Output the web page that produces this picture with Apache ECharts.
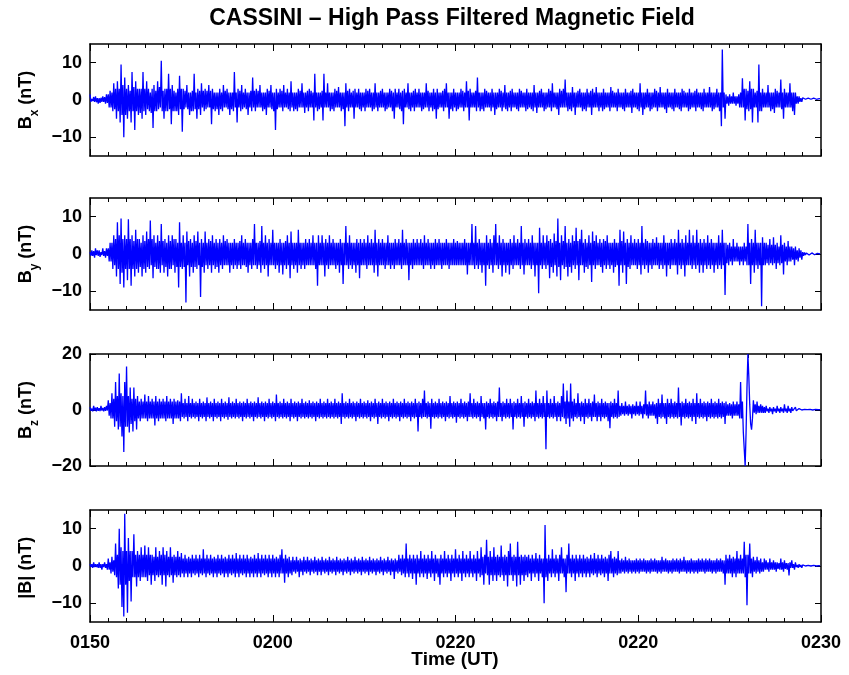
<!DOCTYPE html>
<html><head><meta charset="utf-8">
<script src="https://cdn.jsdelivr.net/npm/echarts@6/dist/echarts.min.js"></script>
<style>html,body{margin:0;padding:0;background:#fff}#c{width:849px;height:675px}</style>
</head><body><div id="c"></div>
<script>
// time axis: minutes after 01:50 UT, one sample every 0.05 min (20 per line = 1 minute)
const sampleStepMin = 0.05;
const xTickLabels = ['0150', '0200', '0220', '0220', '0230'];
const titleText = 'CASSINI \u2013 High Pass Filtered Magnetic Field';
const xAxisTitle = 'Time (UT)';

const bx = [
1.5,-0.5,0.3,-0.3,0.8,-0.5,1,-0.6,0.5,-1,0.5,-0.8,0.6,-0.5,1,-0.5,0.8,-1,1.5,-0.8,
1.5,-2,2.5,-2,2,-3,4.5,-2.5,3,-5,5,-3,3,-6,9.5,-4,4,-10,6,-4,
3,-5,4,-3,2.5,-6,7.5,-3,3.5,-8,5,-3,3,-4,3,-3.5,3,-5,7.5,-3,
3,-4,5,-2.5,3,-3,2,-3.5,3,-7.5,4,-3,2.5,-3,5,-2.5,3.5,-2,10.5,-3,
2.5,-5,3,-3,3,-3,7,-2.5,3,-6.5,4,-3,2.5,-3,2,-3,3,-4,6.5,-2.5,
3,-8.5,3,-2.5,2.5,-2,4,-2.5,2,-4,2,-3,2.5,-3,7,-2.5,2,-5,3,-2.5,
2.5,-4,4.5,-2,2.5,-3,3,-2.5,2.5,-2,4,-2,2.5,-6.5,3,-2.5,2,-3,2,-2.5,
2,-4,3,-2.5,2,-3,4,-2,2.5,-2,3,-2.5,2,-4,2,-2.5,2,-3,7.5,-2,
2,-6,3,-2,2.5,-3,4,-2.5,2,-2,3,-2.5,2,-4,2,-2,2.5,-3,6,-2,
2.5,-3,3,-2,2.5,-2,4,-2,2,-3,2,-2.5,2,-4,3,-2,2.5,-2,4,-2.5,
2,-3,2,-8,3,-2.5,2,-2,3,-2,2.5,-3,4,-2,2,-2,3,-2.5,2,-3,
5,-2,2,-3,2,-2.5,2,-3,3,-2,2.5,-2,4.5,-2,2,-3.5,2,-2,2.5,-3,
3,-2,2.5,-2,2,-5.5,7,-2,2,-3,2,-2.5,2,-2,2.5,-5.5,7,-2,2,-2,
4.5,-2,2,-3,2,-2.5,2,-3,3,-2,2.5,-2,3.5,-2,2,-3,2,-2.5,2,-7,
4.5,-2,2.5,-3,3,-2,2,-2,2.5,-5,3,-2,2,-2,3,-2.5,2,-3,2,-2,
2,-3,3,-2,2.5,-2,3,-2,2,-3,2,-2.5,4.5,-2,2,-3,2,-2,2.5,-2,
3,-2,2,-3,2,-2.5,2,-2,3,-2,2.5,-3,2,-5,3,-2,2,-2,3,-2.5,
2,-3,2.5,-6.5,3,-2,2,-2,4.5,-2.5,2,-3,2,-2,2.5,-3,3,-2,2,-2,
3,-2,2,-3,2,-2.5,2,-2,4.5,-2,2.5,-3,2,-2,2,-3,3,-2.5,2,-5,
3,-2.5,2,-2,2,-2,2.5,-3,3,-2,4.5,-2,2,-5,2,-2.5,2,-3,3,-2,
2,-3,2,-2.5,2,-2,3,-2,2.5,-3,2,-2,5,-2,2.5,-5.5,3,-2,2,-2,
2,-2,2.5,-3,6,-2,2,-3,2,-2.5,2,-3,3,-2,2.5,-2,2,-2,2,-3,
3,-2,2,-4,2,-2.5,2,-2,3,-2,2.5,-3,2,-2,4,-2.5,2,-3,2,-2,
2.5,-3,3,-2,2,-2,2,-2.5,2,-3,3,-2,2.5,-2,2,-2,2,-3,3,-2.5,
2,-2,2,-2.5,2,-3,4,-2,2,-3.5,2,-2,2.5,-2,3,-2,2,-3,2,-2.5,
2,-2,3,-2,2.5,-3,4.5,-2,2,-2,2,-2.5,2,-4,3,-2,2.5,-2,3,-2,
5.5,-2,2,-3,2,-2.5,2,-3,3.5,-2,2,-4,2,-2,2.5,-2,3,-2,2,-3,
2,-2.5,2,-3,3,-2,2,-2,2.5,-4,3,-2,2,-2,3.5,-2,2,-3,2,-2,
2,-3,3,-2.5,2,-2,2,-2,2,-3,3.5,-2,2.5,-2,2,-2,2,-3,3,-2,
2,-2,2,-2.5,2,-3,3,-2,2,-2,2,-2,2.5,-3.5,3,-2,2,-2,2,-2.5,
2,-3,4.5,-2,2,-4,2,-2.5,2,-2,3,-2,2,-3,2,-2.5,2,-2,3,-2,
2.5,-3,2,-2,3.5,-2,2,-2,2,-2.5,2,-3.5,3,-2,2,-2,2,-2.5,2,-3,
3,-2,2,-2,2,-2.5,2,-3,3,-2,2.5,-2,2,-2,2,-3,3,-2.5,2,-2,
2,-2,2.5,-3,3,-2,2,-2,2,-2.5,2,-3,3,-2,2,-2,2,-2,3.5,-2,
2,-3,2,-2.5,2,-2,3,-2,2,-3,2,-7,13.5,-2,2,-5,1.5,-1,1,-1.5,
1.5,-1,1,-1,2,-1,1,-1.5,1,-1,1.5,-2,2,-2,5.8,-2,3,-5.5,3,-2.5,
2.5,-3,5,-2.5,3,-6,3,-2,2,-2,2.5,-6,9.5,-3,2,-3,3,-2,2,-2,
2,-2,4,-2,2,-3,2,-2.5,2,-3.5,3,-2,2.5,-2,2,-2,5.5,-2.5,2,-5,
3,-2,2,-2,2,-2,4.5,-2,2,-3,2,-4,2,-1,1,-1,1,-0.5,0.5,-0.5,
0.6,0.1,0.5,0.2,0.6,0.1,0.5,0.2,0.5,0.2,0.4,0.2,0.5,0.1,0.4,0.2,0.5,0.2,0.4,0.3
];

const by = [
0.5,-0.5,1,-0.5,0.8,-1,1.5,-0.3,1,-0.5,1,-0.8,0.5,-0.3,1.5,-0.5,0.8,-1,1.5,-0.5,
1.5,-2,3,-2,3,-4,5,-3,4,-6,8.5,-4,5,-8,9.5,-5,4,-9,5,-4,
4,-7,9.3,-4,4,-8.5,5,-4,3.5,-6,6.5,-4,4,-5,4,-3.5,3,-6,5,-4,
3.5,-5,6,-3.5,4,-4,9,-3,4,-6.5,5,-3.5,3,-4,5,-4,3.5,-5,8,-3,
3.5,-5,4,-3.5,3,-6,5,-4,3.5,-4,5,-3,4,-5,4,-3.5,3,-9,8.5,-3.5,
3,-4,5,-3.5,3,-13,6,-3,3.5,-6,4,-3.5,3,-5,5,-3.5,3.5,-4,6,-3,
3,-11.5,4,-3.5,3,-5,6,-3,3,-4,4,-3,3.5,-5,5,-3,3,-4,4,-3.5,
3,-5,4,-3,3,-4,5,-3,3.5,-3,4,-3,3,-5,3,-3,3,-4,4,-3,
3,-4,3,-3,3.5,-4,5,-3,3,-3,4,-3.5,3,-5,3,-3,3,-4,4,-3,
8,-3,3,-4,3,-3,3.5,-5,7.5,-3,3,-4,5,-3,3,-6,4,-3,3,-3,
6.5,-3,3,-4,3,-3,3,-5,4,-3,3,-5.5,3,-3,3.5,-4,5,-3,3,-6.5,
6,-3,3,-4,3,-3,3,-5,6.5,-3,3,-4,3,-3,3,-4,4,-3,3,-3,
4,-3,3,-3,5,-3,3,-4,3,-8.5,5,-3,3,-3,5,-3,3,-6,4,-3,
3,-4,5,-3,3,-3,4,-3,3,-4,3,-3,3,-5,4,-3,3,-8,3,-3,
7.5,-3,3,-4,5,-3,3,-4,3,-3,3,-5,4,-3,3,-6.5,4,-3,3,-3,
4,-3,3,-4,5,-3,3,-3,4,-3,3,-5,6.5,-3,3,-6,4,-3,3,-3,
4,-3,3,-4,3,-3,5,-3,3,-4,3,-3,3,-4,4,-3,3,-3,4,-3,
3,-4,6.5,-3,3,-3,4,-3,3,-7,3,-3,3,-4,4,-3,3,-3,4,-3,
3,-3,4,-3,3,-4,5,-3,3,-3,4,-3,3,-4,3,-3,3,-4,4,-3,
3,-3,4,-3,3,-4,3,-3,3,-3,4,-3,3,-4,3,-3,3,-3,4,-3,
3,-3,3.5,-3,3,-3,3,-3,3,-3,4,-3,3,-5.5,3,-3,3,-3,8,-3,
3,-4,7.5,-3,3,-4,4,-3,3,-5,3,-3,3,-8.5,5,-3,3,-4,4,-3,
3,-5,5,-3,8,-3,3,-4,5,-3,3,-6,4,-3,3,-5,3,-3,3,-5.5,
4,-3,3,-4,5,-3,3,-3,4,-3,3,-4,7.5,-3,3,-5.5,4,-3,3,-3,
4,-3,3,-4,5,-3,3,-6,3,-3,3,-10.5,7,-3,3,-4,5,-3,3,-4,
5,-3,3.5,-6.5,4,-3.5,3,-5,5.5,-3,3.5,-6,9.5,-3.5,3,-7,5,-3,3.5,-4,
7.5,-3.5,3,-6,4,-3.5,3,-5,5,-3,3.5,-4,7,-3,3.5,-7,4,-3,6.5,-3,
3,-5,4,-3.5,3,-4,5,-3,3,-7.5,6,-3,3.5,-4,5,-3,3,-3,4,-3.5,
3,-5,4,-3,3.5,-4,5,-3,3,-4,3,-3,3,-5,4,-3.5,3,-3,3,-8.5,
6.5,-3,3.5,-5,6,-3,3,-8,4,-3.5,3,-4,5,-3,3,-3,4,-3,3,-4,
4,-3,3,-5.5,7.5,-3,3,-4,4,-3,3.5,-5,3,-3,3,-4,4,-3,3,-3,
4.5,-3,3,-4,3,-3,3,-4,5,-3,3,-6,3,-3,3,-4,4,-3,3,-3,
4,-3,3,-5.5,6.5,-3,3,-4,4,-3,3,-6,5,-3,3,-3,6.5,-3,3,-4,
5,-3,3,-4,6.5,-3,3,-5,4,-3,3,-5,4,-3,3,-4,5,-3,3,-4,
4,-3,3,-5,3,-3,3,-4,5,-3,3,-4,6.5,-3,3,-11,3,-2.5,2.5,-3,
3,-2,2,-3,4,-2,2,-2,3,-2,2,-3,2,-2,2,-3,3,-2,2,-3,
8,-3,3,-8,4,-3,3,-5,6.5,-3,3,-4,3,-3,3,-14,4.5,-3,3,-3,
3,-2.5,2.5,-3,4,-2.5,2.5,-3,4.5,-2.5,2.5,-4,3,-2.5,2,-3,5,-2.5,2.5,-5.5,
3,-2,2,-3,3.5,-2,2,-2,2,-1.5,1.5,-3,2,-1.5,1,-2,1.5,-1,1,-1.5,
0.5,-0.5,0.4,-0.3,0.3,-0.2,0.3,-0.3,0.2,-0.2,0.3,-0.2,0.2,-0.2,0.2,-0.1,0.2,-0.2,0.1,0
];

const bz = [
1,-0.3,0.5,-0.5,1.5,-0.2,0.8,-0.5,1,-0.3,0.6,-0.4,1.5,-0.2,0.7,-0.5,1,-0.3,1.5,-0.2,
3.5,-2,2.5,-3,6,-3,4,-6,10,-4,5,-7,13,-6,6,-9.5,5,-15,10,-6,
15.5,-6,5,-8,8,-5,4,-7.7,8,-4,4,-7,5,-3,3,-4,4,-3,3,-3,
5.5,-3,3,-4,5,-3,3,-3,4,-3,3,-5.5,5,-3,3,-4,4,-3,3,-3,
4,-3,3,-4,5,-3,3,-3,4,-3,3,-5,4,-3,3,-3,3.5,-3,3,-4,
6,-2.5,2.5,-3,4,-2.5,2.5,-4,5,-2.5,2.5,-3,4,-2.5,2.5,-3,3,-2.5,2.5,-4,
4,-2.5,2.5,-3,3,-2.5,2.5,-4,4.5,-2.5,2.5,-3,3,-2.5,2.5,-4,4,-2.5,2.5,-3,
3,-2.5,2.5,-4,4,-2.5,2.5,-3,3,-2.5,2.5,-3.5,4.5,-2.5,2.5,-3,3,-2.5,2.5,-3,
4,-2.5,2.5,-3,3,-2.5,2.5,-4,3,-2.5,2.5,-3,4,-2.5,2.5,-3,3,-2.5,2.5,-4,
3,-2.5,2.5,-3,4.5,-2.5,2.5,-3,3,-2.5,2.5,-4,3,-2.5,2.5,-3,4,-2.5,2.5,-3,
3,-2.5,2.5,-4,5.5,-2.5,2.5,-3,3,-2.5,2.5,-3,4,-2.5,2.5,-3,3,-2.5,2.5,-4,
4,-2.5,2.5,-3,3,-2.5,2.5,-4,3,-2.5,2.5,-3,4,-2.5,2.5,-3,3,-2.5,2.5,-3,
3.5,-2.5,2.5,-3,3,-2.5,2.5,-4,3,-2.5,2.5,-3,4,-2.5,2.5,-3,3,-2.5,2.5,-3,
4,-2.5,2.5,-3,3,-2.5,2.5,-3,4,-2.5,2.5,-3,3,-2.5,2.5,-5,6,-2.5,2.5,-3,
3,-2.5,2.5,-3,4,-2.5,2.5,-3,3,-2.5,2.5,-4,3,-2.5,2.5,-3,4,-2.5,2.5,-3,
3,-2.5,2.5,-3,3.5,-2.5,2.5,-4,3,-2.5,2.5,-3,4,-2.5,2.5,-5,3,-2.5,2.5,-3,
4,-2.5,2.5,-3,3,-2.5,2.5,-4,3,-2.5,2.5,-3,4,-2.5,2.5,-3,3,-2.5,2.5,-4,
3,-2.5,2.5,-3,4,-2.5,2.5,-3,3,-2.5,2.5,-4,3,-2.5,2.5,-3,4,-2.5,2.5,-7.7,
3,-2.5,2.5,-3,4,-2.5,7,-2.5,2.5,-3,3,-2.5,2.5,-6.7,4,-2.5,2.5,-3,3,-2.5,
2.5,-3,4,-2.5,2.5,-3,3,-2.5,2.5,-4,3,-2.5,2.5,-3,5,-2.5,2.5,-3,3,-2.5,
2.5,-4.5,3,-2.5,2.5,-3,4,-2.5,2.5,-3,3,-2.5,2.5,-4,3,-2.5,6,-2.5,2.5,-3,
4,-2.5,2.5,-3,3,-2.5,2.5,-4,5,-2.5,2.5,-3,2.5,-7,3,-2.5,2.5,-3,4,-2.5,
2.5,-3,3,-2.5,2.5,-4,3,-2.5,8,-2.5,2.5,-4,3,-2.5,2.5,-3,4,-2.5,2.5,-3,
4,-2.5,2.5,-7,3,-2.5,2.5,-3,4,-2.5,2.5,-3,5,-2.5,2.5,-6,3,-2.5,2.5,-3,
4,-2.5,2.5,-3,3,-2.5,2.5,-4,7,-2.5,2.5,-3,4,-2.5,2.5,-3,5,-2.5,2.5,-14,
7,-2.5,2.5,-3,4,-2.5,2.5,-3,5,-2.5,2.5,-4,3,-2.5,2.5,-4,5,-2.5,9.5,-3,
3,-5,7,-3,3,-6,9.5,-3,3,-4,4,-2.5,2.5,-3,6,-2.5,2.5,-4,3,-2.5,
2.5,-5,4,-2.5,2.5,-3,4,-2.5,2.5,-4,3,-2.5,5.5,-2.5,2.5,-4,3,-2.5,2.5,-4,
4,-2.5,2.5,-3,3,-2.5,2.5,-4,2.5,-6.5,3,-2.5,2.5,-3,4,-2.5,2.5,-3,7,-2.5,
1.5,-2,2.5,-1.5,1.5,-2,3,-1.5,1.5,-2,2,-1.5,1.5,-3,2,-1.5,1.5,-2,3,-1.5,
1.5,-2,3,-1.5,1.5,-3,2,-1.5,7,-2,2,-3,3,-2,2,-2,3,-2,2,-3,
2.5,-5,4,-2.5,2.5,-3,5.5,-2.5,2.5,-3,2.5,-5,4,-2.5,2.5,-3,4,-2.5,2.5,-3,
3,-2.5,2.5,-3,8,-2.5,2.5,-5.5,3,-2.5,2.5,-3,4,-2.5,2.5,-3,3,-2.5,2.5,-4,
4,-2.5,2.5,-5,6,-2.5,2.5,-3,4,-2.5,2.5,-3,3,-2.5,2.5,-4,3,-2.5,2.5,-3,
4,-2.5,2.5,-3,3,-2.5,2.5,-3,4,-2.5,2.5,-3,3,-2.5,2.5,-5,3,-2,2,-2,
2.5,-2,2,-3,3,-2,2,-2,3,-2,2,-3,10,-3,3,-8,-14,-20,-8,8,
20,12,2,-5,-7,-3,3.5,-1,2,-1.5,3,-1,1.5,-1,2,-1,1.5,-1,1,-1,
1.5,-0.5,0.5,-1,1,-0.5,0.5,-1.5,1,-0.5,0.5,-1,1.5,-0.5,0.5,-1,1,-0.5,0.5,-1,
2,-0.5,0.5,-1,1.5,-0.5,0.5,-1,1,-0.3,0.3,-0.5,1,-0.3,0.3,-0.5,0.5,-0.2,0.2,0,
0.3,0,0.2,0,0.3,0.1,0.2,0,0.2,0.1,0.2,0,0.3,0.1,0.2,0.1,0.2,0.1,0.2,0.1
];

const bmag = [
0.5,-0.3,0.5,-0.5,1,-0.3,0.5,-0.3,0.5,-0.5,1,-0.5,0.5,-1,0.5,-0.3,1,-0.5,0.5,-1,
2,-1,1,-2,2.5,-1.5,1.5,-2.5,6,-3,3,-6,10,-5,5,-11,4,-13.5,14,-5,
4,-12.5,7.5,-4,4,-9.5,4,-3,8.5,-3,3,-5.5,4,-3,3,-4,5,-3,3,-3,
5.5,-3,3,-4,5,-2.5,3,-5,3,-2.5,2.5,-4,5,-2.5,2.5,-3,4,-2.5,3,-5,
5,-2.5,3,-5.5,4,-2.5,2.5,-3,5,-2.5,2.5,-4.5,3,-2.5,2.5,-3,4,-2.5,2.5,-3,
3.5,-2,2,-3,3,-2,2,-3,2.5,-2,2,-3,3,-2,2,-2.5,3,-2,2,-3,
3,-2,2,-2.5,4.5,-2,2,-3,3,-2,2,-2.5,3,-2,2,-3,2.5,-2,2,-3,
3,-2,2,-2.5,3,-2,2,-3,2.5,-2,2,-3,3,-2,2,-2.5,3,-2,2,-3,
3.5,-2,2,-3,3,-2,2,-2.5,3,-2,2,-3,3,-2,2,-3,2.5,-2,2,-3,
3,-2,2,-3,3.5,-2,2,-3,3,-2,2,-2.5,3,-2,2,-3,3,-2,2,-3,
3,-2,2,-3,2.5,-2,2,-3,3,-2,4.5,-2,2,-4.5,3,-2,2,-3,2.5,-2,
1.5,-2.5,2.5,-1.5,1.5,-2,2.5,-1.5,1.5,-3,2,-1.5,1.5,-2.5,2.5,-1.5,1.5,-2,2.5,-1.5,
1.5,-2.5,2,-1.5,1.5,-2,2.5,-1.5,1.5,-2.5,2,-1.5,1.5,-2.5,2.5,-1.5,1.5,-2,2,-1.5,
1.5,-2.5,2.5,-1.5,1.5,-2,2,-1.5,1.5,-2.5,2.5,-1.5,1.5,-2,2,-1.5,1.5,-2.5,2,-1.5,
1.5,-2,2.5,-1.5,1.5,-2.5,2,-1.5,1.5,-2,2.5,-1.5,1.5,-2,2,-1.5,1.5,-2.5,2.5,-1.5,
1.5,-2,2,-1.5,1.5,-2.5,2.5,-1.5,1.5,-2,2,-1.5,1.5,-2.5,2,-1.5,1.5,-2,2.5,-1.5,
1.5,-2.5,2,-1.5,1.5,-2,2.5,-1.5,1.5,-2.5,2,-1.5,1.5,-3.5,2,-1.5,1.5,-2,3,-1.5,
2,-2.5,3,-2,2,-3,6,-2,2,-3,3,-2,2,-3.5,3,-2,2,-5,3,-2,
2,-3,4,-2,2,-3,3,-2,2,-3.5,3,-2,2,-3,4,-2,2,-4,3,-2,
2,-3,2,-5,3,-2,2,-3,4,-2,2,-3,3,-2,2,-4,3,-2,2,-3,
4.5,-2,2,-3,3,-2,2,-4,4,-2,2,-3,3,-2,2,-3,4,-2,2,-3,
3,-2,2,-4,4,-2,2,-3,5,-2.5,2.5,-5,3,-2,7,-2.5,2.5,-5,4,-2.5,
2.5,-4,5,-2.5,2.5,-4,3,-2.5,2.5,-3,5.5,-2.5,2.5,-4,3,-2.5,2.5,-5.5,4,-2.5,
6,-2.5,2.5,-4,3,-2.5,2.5,-5.5,6.5,-2.5,2.5,-5,3,-2.5,2.5,-4,3,-2.5,2.5,-3,
3,-2,2,-4,3,-2,2,-3,3.5,-2,2,-4,3,-2,2,-3,2,-10,11,-3,
2,-4,3,-2,2,-3,4.5,-2,2,-3,3,-2,2,-4,3,-2,5,-2,2,-3,
2,-7,3,-2,6,-2,2,-3,3,-2,2,-4,3,-2,2,-3,3,-2,2,-3,
3,-2,2,-3,2.5,-2,2,-3,3,-2,2,-2.5,3.5,-2,2,-3,3,-2,2,-2.5,
3,-2,2,-3,2.5,-2,2,-4,3,-2,4,-2,2,-3,2.5,-2,2,-2.5,4,-2,
1.5,-2,2,-1.5,1.5,-2,2.5,-1.5,1.5,-2,2,-1.5,1.5,-2,1.5,-1.5,1.5,-2,2,-1.5,
1.5,-2,2,-1.5,1.5,-1.5,2,-1.5,1.5,-2,1.5,-1.5,1.5,-2,2,-1.5,1.5,-1.5,2,-1.5,
1.5,-2,1.5,-1.5,1.5,-2,2.5,-1.5,1.5,-1.5,2,-1.5,1.5,-2,1.5,-1.5,1.5,-2,2,-1.5,
1.5,-1.5,2,-1.5,1.5,-2,2,-1.5,1.5,-1.5,2.5,-1.5,1.5,-2,1.5,-1.5,1.5,-2,2,-1.5,
1.5,-2,1.5,-1.5,1.5,-2,2,-1.5,1.5,-1.5,2,-1.5,1.5,-2,2,-1.5,1.5,-1.5,2,-1.5,
1.5,-2,1.5,-1.5,1.5,-2,2,-1.5,1.5,-1.5,2,-1.5,1.5,-2,1.5,-5,3,-2,2,-2,
3,-2,2,-3,2.5,-2,2,-3,4,-2,2,-2,3,-2,2,-2,6.5,-3,3,-10.5,
3,-2,6,-2,2,-3,2.5,-1.5,1.5,-2,2.5,-1.5,1.5,-2,2,-1.5,1,-1.5,2,-1,
1.5,-1,1,-1.5,2,-1,1,-1,1.5,-1,1,-1.5,1,-0.8,0.8,-1,2,-1,1,-1.5,
1.5,-0.8,0.8,-1,0.8,-2.5,1,-0.5,1.5,-0.5,0.5,-1,1,-0.3,0.3,-0.5,0.5,-0.3,0.3,-0.5,
0.3,0,0.2,0,0.2,0,0.2,0.1,0.2,0,0.2,0,0.2,0,0.1,0,0.1,0,0.1,0
];

const panelNames = ['{b|B}{s|x}{b| (nT)}', '{b|B}{s|y}{b| (nT)}', '{b|B}{s|z}{b| (nT)}', '{b||B| (nT)}{s| }'];
const panelSeries = [bx, by, bz, bmag];
const panelRanges = [[-15, 15], [-15, 15], [-20, 20], [-15, 15]];
const panelTicks = [[-10, 0, 10], [-10, 0, 10], [-20, 0, 20], [-10, 0, 10]];

const FONT = '"Liberation Sans", Arial, Helvetica, sans-serif';
const tops = [44, 198, 354, 510];
const gridLeft = 90, gridWidth = 731, gridHeight = 112;
const axisLineStyle = { color: '#000', width: 1.5 };

const grids = [], xAxes = [], yAxes = [], series = [];
panelSeries.forEach((vals, i) => {
  grids.push({ left: gridLeft, top: tops[i], width: gridWidth, height: gridHeight, show: false });
  ['bottom', 'top'].forEach(pos => {
    xAxes.push({
      gridIndex: i, type: 'value', position: pos, min: 0, max: 40, interval: 10,
      axisLine: { show: true, onZero: false, lineStyle: axisLineStyle },
      axisTick: { show: true, inside: true, length: 7, lineStyle: { color: '#000', width: 1 } },
      minorTick: { show: true, splitNumber: 10, length: 4, lineStyle: { color: '#000', width: 1 } },
      splitLine: { show: false },
      axisLabel: {
        show: pos === 'bottom' && i === 3, margin: 12,
        fontFamily: FONT, fontWeight: 'bold', fontSize: 18, color: '#000',
        formatter: (v) => xTickLabels[Math.round(v / 10)]
      }
    });
  });
  ['left', 'right'].forEach(pos => {
    const ax = {
      gridIndex: i, type: 'value', position: pos,
      min: panelRanges[i][0], max: panelRanges[i][1],
      axisLine: { show: true, onZero: false, lineStyle: axisLineStyle },
      axisTick: { show: true, inside: true, length: 6, customValues: panelTicks[i], lineStyle: { color: '#000', width: 1 } },
      splitLine: { show: false },
      axisLabel: {
        show: pos === 'left', customValues: panelTicks[i], margin: 8,
        fontFamily: FONT, fontWeight: 'bold', fontSize: 18, color: '#000',
        formatter: (v) => String(v).replace('-', '\u2212')
      }
    };
    if (pos === 'left') {
      ax.name = panelNames[i];
      ax.nameLocation = 'middle';
      ax.nameGap = 46;
      ax.nameTextStyle = {
        fontFamily: FONT, color: '#000',
        rich: {
          b: { fontFamily: FONT, fontWeight: 'bold', fontSize: 18, lineHeight: 18, verticalAlign: 'top', color: '#000' },
          s: { fontFamily: FONT, fontWeight: 'bold', fontSize: 12, lineHeight: 12, verticalAlign: 'top', padding: [12, 0, 0, 0], color: '#000' }
        }
      };
    }
    yAxes.push(ax);
  });
  series.push({
    type: 'line', xAxisIndex: 2 * i, yAxisIndex: 2 * i,
    data: vals.map((v, k) => [k * sampleStepMin, v]),
    showSymbol: false, symbol: 'none', sampling: null,
    lineStyle: { color: '#0000ff', width: 1.3 },
    emphasis: { disabled: true }, silent: true
  });
});

const chart = echarts.init(document.getElementById('c'), null, { renderer: 'canvas' });
chart.setOption({
  animation: false,
  backgroundColor: '#fff',
  grid: grids, xAxis: xAxes, yAxis: yAxes, series: series,
  graphic: [
    { type: 'text', x: 452, y: 7, style: { text: titleText, fontFamily: FONT, fontWeight: 'bold', fontSize: 23, fill: '#000', textAlign: 'center' }, silent: true },
    { type: 'text', x: 455, y: 650, style: { text: xAxisTitle, fontFamily: FONT, fontWeight: 'bold', fontSize: 19, fill: '#000', textAlign: 'center' }, silent: true }
  ]
});
</script>
</body></html>
